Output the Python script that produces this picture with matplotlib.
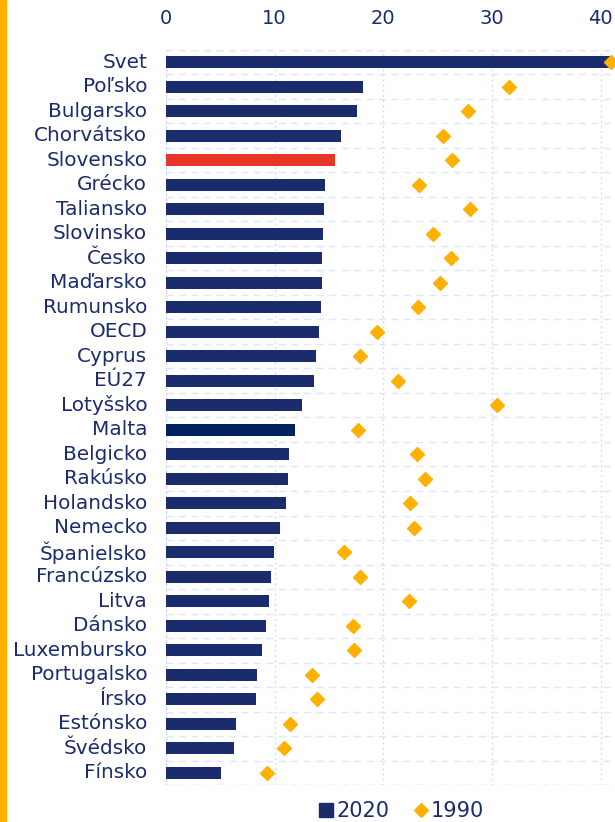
import matplotlib
matplotlib.use('Agg')
from matplotlib import pyplot as plt
from matplotlib.lines import Line2D
from matplotlib.patches import Rectangle
from matplotlib.ticker import MultipleLocator, FixedLocator

# Údaje
countries = ['Svet', 'Poľsko', 'Bulgarsko', 'Chorvátsko', 'Slovensko', 'Grécko',
             'Taliansko', 'Slovinsko', 'Česko', 'Maďarsko', 'Rumunsko', 'OECD',
             'Cyprus', 'EÚ27', 'Lotyšsko', 'Malta', 'Belgicko', 'Rakúsko',
             'Holandsko', 'Nemecko', 'Španielsko', 'Francúzsko', 'Litva', 'Dánsko',
             'Luxembursko', 'Portugalsko', 'Írsko', 'Estónsko', 'Švédsko', 'Fínsko']
values_2020 = [40.9, 18.1, 17.6, 16.1, 15.6, 14.6, 14.5, 14.45, 14.4, 14.4, 14.3,
               14.05, 13.8, 13.6, 12.5, 11.9, 11.3, 11.2, 11.0, 10.5, 9.9, 9.7,
               9.45, 9.2, 8.8, 8.4, 8.25, 6.45, 6.3, 5.1]
values_1990 = [41.0, 31.6, 27.8, 25.5, 26.3, 23.3, 28.0, 24.6, 26.2, 25.2, 23.2,
               19.4, 17.9, 21.4, 30.5, 17.7, 23.1, 23.8, 22.5, 22.8, 16.4, 17.9,
               22.4, 17.2, 17.3, 13.4, 13.9, 11.4, 10.9, 9.3]
x_ticks = [0, 10, 20, 30, 40]

NAVY = '#1a2c6c'
DARK_NAVY = '#002060'
RED = '#e8352a'
ORANGE = '#ffb000'
GRID = '#dfe5fb'

plt.rcParams['font.family'] = ['DejaVu Sans']

fig = plt.figure(figsize=(6.15, 8.22), dpi=100)
ax = fig.add_axes([166 / 615, 1 - 785 / 822, 1 - 166 / 615, (785 - 50) / 822])

y = list(range(len(countries)))
colors = [NAVY] * len(countries)
colors[countries.index('Slovensko')] = RED
colors[countries.index('Malta')] = DARK_NAVY

ax.barh(y, values_2020, height=0.5, color=colors, zorder=3)
ax.plot(values_1990, y, linestyle='none', marker='D', markersize=7.6,
        color=ORANGE, zorder=4, clip_on=False)

ax.set_ylim(len(countries) - 0.5, -0.5)
ax.set_xlim(0, 41.33)

ax.xaxis.tick_top()
ax.xaxis.set_major_locator(FixedLocator(x_ticks))
ax.set_yticks(y)
ax.set_yticklabels(countries, va='center')
ax.yaxis.set_minor_locator(MultipleLocator(1, offset=0.5))
ax.tick_params(axis='both', which='both', length=0)
ax.tick_params(axis='x', pad=16, labelsize=14, labelcolor=NAVY)
ax.tick_params(axis='y', pad=13.5, labelsize=14.4, labelcolor=NAVY)

ax.grid(axis='x', which='major', color='#cdd5f7', linestyle=(0, (1.2, 2.5)),
        linewidth=1.0, zorder=0)
ax.grid(axis='y', which='minor', color=GRID, linestyle=(0, (5, 4)),
        linewidth=1.0, zorder=0)
ax.plot([0, 0], [-0.5, len(countries) - 0.5], color='#cdd5f7',
        linestyle=(0, (1.2, 2.5)), linewidth=1.0, zorder=0)
ax.axhline(-0.5, color=GRID, linestyle=(0, (5, 4)), linewidth=1.0, zorder=0)
ax.axhline(len(countries) - 0.5, color=GRID, linestyle=(0, (5, 4)), linewidth=1.0, zorder=0)

for spine in ax.spines.values():
    spine.set_visible(False)

# Oranžový pruh vľavo
fig.patches.append(Rectangle((0, 0), 6 / 615, 1, transform=fig.transFigure,
                             color=ORANGE, zorder=0))

handles = [
    Line2D([], [], linestyle='none', marker='s', markersize=10, color=NAVY),
    Line2D([], [], linestyle='none', marker='D', markersize=7.6, color=ORANGE),
]
fig.legend(handles, ['2020', '1990'], loc='center', ncol=2,
           bbox_to_anchor=(400 / 615, 1 - 811 / 822), frameon=False,
           fontsize=15, handletextpad=0.0, columnspacing=1.0,
           handlelength=1.0, labelcolor=NAVY)

fig.savefig('out.png', dpi=100)
